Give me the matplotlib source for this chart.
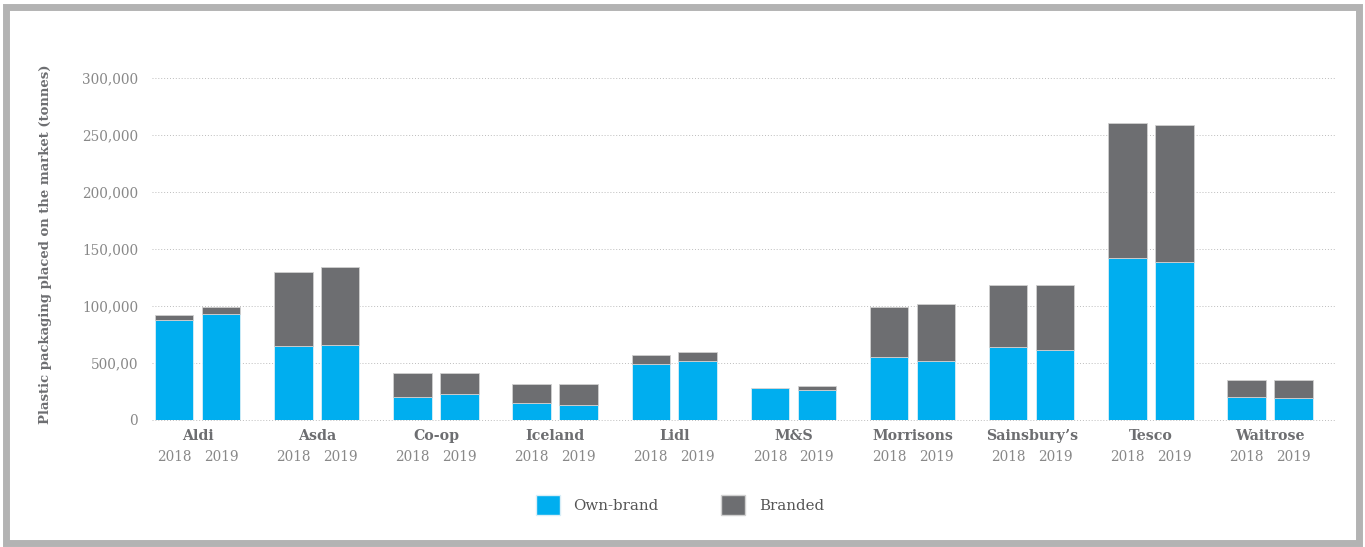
"""Plastic packaging placed on the market by UK supermarkets, 2018 vs 2019."""

import numpy as np
import matplotlib
matplotlib.use("Agg")
import matplotlib.pyplot as plt
from matplotlib.patches import Patch, Rectangle


# ===============================
# Data (tonnes)
# ===============================
retailers = ["Aldi", "Asda", "Co-op", "Iceland", "Lidl", "M&S",
             "Morrisons", "Sainsbury\u2019s", "Tesco", "Waitrose"]
years = ["2018", "2019"]

own_2018 = [87400, 64700, 20100, 14900, 49100, 28200, 55200, 63800, 142400, 19800]
total_2018 = [91700, 129900, 41400, 31900, 56900, 28200, 98900, 118400, 260200, 35000]
own_2019 = [93400, 65800, 22400, 13200, 51700, 26700, 52000, 61200, 138600, 19500]
total_2019 = [99100, 134500, 41400, 31900, 59500, 29900, 102000, 118400, 258500, 35000]

y_ticks = [0, 50000, 100000, 150000, 200000, 250000, 300000]
y_tick_labels = ["0", "500,00", "100,000", "150,000", "200,000", "250,000", "300,000"]

BLUE = "#00aeef"
GREY = "#6d6e71"
TEXT = "#6d6e71"
LIGHT_TEXT = "#888888"
FONT = "DejaVu Serif"


def main():
    fig = plt.figure(figsize=(13.65, 5.47), dpi=100)
    ax = fig.add_axes([0.1114, 0.2322, 0.8666, 0.6252])

    x = np.arange(len(retailers))
    width = 0.323
    offset = 0.197

    for xs, own, total in [(x - offset, own_2018, total_2018),
                           (x + offset, own_2019, total_2019)]:
        own = np.array(own)
        branded = np.array(total) - own
        ax.bar(xs, own, width, color=BLUE, edgecolor="#d9eef7", linewidth=0.6, zorder=3)
        ax.bar(xs, branded, width, bottom=own, color=GREY, edgecolor="#d0d0d0",
               linewidth=0.6, zorder=3)

    ax.set_xlim(-0.382, 9.545)
    ax.set_ylim(0, 300000)
    ax.set_yticks(y_ticks)
    ax.set_yticklabels(y_tick_labels, fontfamily=FONT, fontsize=9.8, color=LIGHT_TEXT)
    ax.tick_params(axis="y", length=0, pad=10)
    ax.set_xticks([])
    ax.grid(axis="y", color="#bdbdbd", linestyle=(0, (1, 2)), linewidth=0.7, zorder=0)
    for gl in ax.yaxis.get_gridlines():
        gl.set_clip_on(False)
    for s in ax.spines.values():
        s.set_visible(False)

    # Category and year labels under the bars
    for i, name in enumerate(retailers):
        ax.annotate(name, xy=(i, 0), xycoords=("data", "axes fraction"),
                    xytext=(0, -11.5), textcoords="offset points",
                    ha="center", va="center", fontfamily=FONT, fontweight="bold",
                    fontsize=10.2, color=TEXT)
        for j, yr in enumerate(years):
            ax.annotate(yr, xy=(i + (2 * j - 1) * offset, 0),
                        xycoords=("data", "axes fraction"),
                        xytext=(0, -27), textcoords="offset points",
                        ha="center", va="center", fontfamily=FONT,
                        fontsize=9.8, color=LIGHT_TEXT)

    fig.text(46 / 1365, 1 - 244 / 547, "Plastic packaging placed on the market (tonnes)",
             rotation=90, ha="center", va="center", fontfamily=FONT,
             fontweight="bold", fontsize=9.5, color=TEXT)

    handles = [Patch(facecolor=BLUE, edgecolor="#d9eef7", label="Own-brand"),
               Patch(facecolor=GREY, edgecolor="#d0d0d0", label="Branded")]
    fig.legend(handles=handles, loc="center", bbox_to_anchor=(0.498, 0.077),
               ncol=2, frameon=False, handlelength=1.6, handleheight=1.6,
               handletextpad=0.9, columnspacing=4.2,
               prop={"family": FONT, "size": 10.8}, labelcolor="#555555")

    # Grey frame around the figure
    fig.patches.append(Rectangle((0.00476, 0.0064), 0.99597 - 0.00476, 0.9872 - 0.0064,
                                 transform=fig.transFigure, fill=False,
                                 edgecolor="#b3b3b3", linewidth=5.0))

    fig.savefig("out.png", dpi=100)
    plt.close(fig)


if __name__ == "__main__":
    main()
